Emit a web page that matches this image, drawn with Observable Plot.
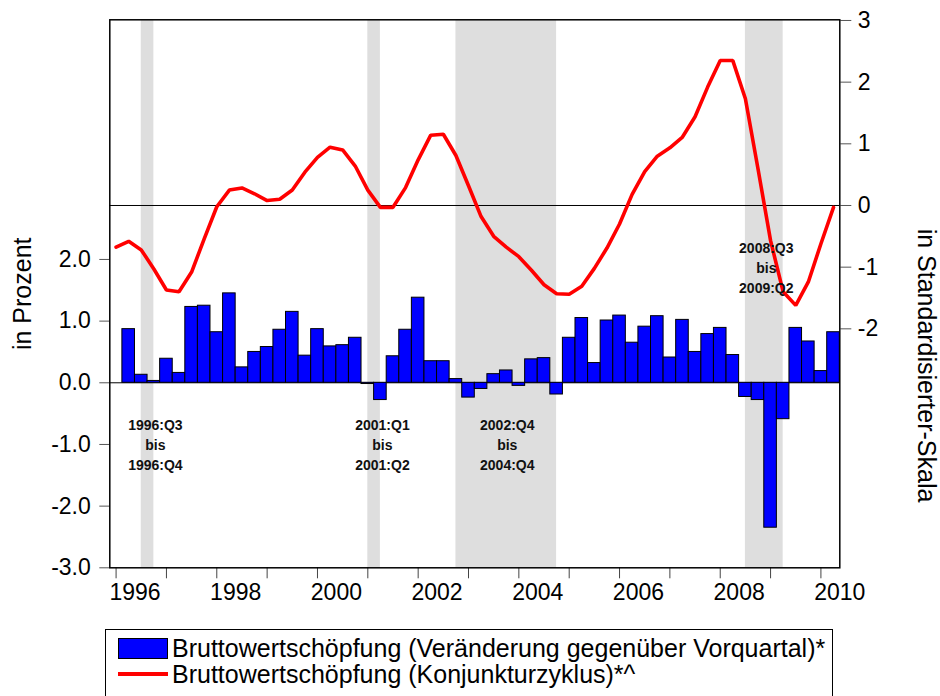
<!DOCTYPE html>
<html><head><meta charset="utf-8">
<script src="https://cdn.jsdelivr.net/npm/d3@7"></script>
<script src="https://cdn.jsdelivr.net/npm/@observablehq/plot@0.6"></script>
<style>
body{margin:0;background:#fff;font-family:"Liberation Sans",Arial,sans-serif;}
#wrap{position:relative;width:940px;height:696px;overflow:hidden;}
#legend{position:absolute;left:105px;top:629px;width:728px;height:80px;border:1px solid #000;box-sizing:border-box;background:#fff;}
.row{position:absolute;left:12px;height:26px;display:flex;align-items:center;font-size:25px;color:#000;white-space:nowrap;}
.sw{display:inline-block;width:50px;margin-right:4px;box-sizing:border-box;}
</style></head><body><div id="wrap"><div id="chart"></div><div id="legend"></div></div>
<script>
// ---------- data ----------
const startYear = 1996;
// Quarterly change of gross value added (left axis, %), 1996Q2 .. 2010Q2
const changeValues = [
  0.87, 0.13, 0.03,
  0.39, 0.16, 1.23, 1.25,
  0.82, 1.45, 0.25, 0.50,
  0.58, 0.86, 1.15, 0.44,
  0.87, 0.59, 0.61, 0.73,
  -0.02, -0.28, 0.43, 0.86,
  1.38, 0.35, 0.35, 0.06,
  -0.24, -0.10, 0.14, 0.20,
  -0.05, 0.38, 0.40, -0.19,
  0.73, 1.05, 0.32, 1.01,
  1.09, 0.65, 0.91, 1.08,
  0.41, 1.02, 0.50, 0.79,
  0.89, 0.45, -0.23, -0.28,
  -2.35, -0.59, 0.89, 0.67,
  0.19, 0.82
];
// Business cycle (right axis, standardised), 1996Q1 .. 2010Q2
const cycleValues = [
  -0.675, -0.58, -0.72, -1.03,
  -1.37, -1.40, -1.08, -0.54,
  -0.02, 0.25, 0.285, 0.19,
  0.08, 0.10, 0.25, 0.54,
  0.78, 0.945, 0.90, 0.64,
  0.25, -0.03, -0.03, 0.29,
  0.74, 1.14, 1.155, 0.81,
  0.32, -0.18, -0.50, -0.675,
  -0.83, -1.05, -1.285, -1.43,
  -1.44, -1.31, -1.02, -0.69,
  -0.30, 0.18, 0.55, 0.80,
  0.935, 1.11, 1.44, 1.92,
  2.35, 2.35, 1.73, 0.595,
  -0.57, -1.40, -1.62, -1.24,
  -0.62, -0.03
];
const recessions = [
  ["1996Q3", "1996Q4"],
  ["2001Q1", "2001Q2"],
  ["2002Q4", "2004Q4"],
  ["2008Q3", "2009Q2"]
];
const recessionLabels = [
  {t: 1996.78, level: -0.99, text: "1996:Q3\nbis\n1996:Q4"},
  {t: 2001.29, level: -0.99, text: "2001:Q1\nbis\n2001:Q2"},
  {t: 2003.77, level: -0.99, text: "2002:Q4\nbis\n2004:Q4"},
  {t: 2008.915, level: 1.89, text: "2008:Q3\nbis\n2009:Q2"}
];
const xTicks = [1996,1997,1998,1999,2000,2001,2002,2003,2004,2005,2006,2007,2008,2009,2010];
const xLabelYears = [1996, 1998, 2000, 2002, 2004, 2006, 2008, 2010];
const xTickLabels = ["1996","1998","2000","2002","2004","2006","2008","2010"];
const leftTicks = [-3, -2, -1, 0, 1, 2];
const leftTickLabels = ["-3.0","-2.0","-1.0","0.0","1.0","2.0"];
const rightTicks = [-2, -1, 0, 1, 2, 3];
const rightTickLabels = ["-2","-1","0","1","2","3"];
const seriesNames = [
  "Bruttowertschöpfung (Veränderung gegenüber Vorquartal)*",
  "Bruttowertschöpfung (Konjunkturzyklus)*^"
];
const leftTitle = "in Prozent";
const rightTitle = "in Standardisierter-Skala";

// ---------- helpers ----------
const tOf = s => +s.slice(0, 4) + (+s.slice(5) - 1) / 4;
const quarterT = i => startYear + i / 4;           // i = 0 -> 1996Q1
const OFF = 2.875;                                 // right-axis 0 in left-axis units
const HALF = 0.125;

const bars = changeValues.map((v, i) => ({t: quarterT(i + 1), v}));
const cycle = cycleValues.map((v, i) => ({t: quarterT(i), v}));
const FONT = '"Liberation Sans", Arial, sans-serif';

const chart = Plot.plot({
  width: 940,
  height: 610,
  marginLeft: 109.3,
  marginRight: 100.7,
  marginTop: 19.3,
  marginBottom: 42.7,
  style: {fontFamily: FONT, fontSize: "23px", background: "#fff", color: "#000", overflow: "visible"},
  x: {domain: [startYear - HALF, 2010.25 + HALF], label: null},
  y: {domain: [-3, 5.886], label: null},
  marks: [
    Plot.rect(recessions, {x1: d => tOf(d[0]), x2: d => tOf(d[1]), fill: "#dedede"}),
    Plot.ruleY([0, OFF], {stroke: "#000", strokeWidth: 1}),
    Plot.rect(bars, {x1: d => d.t - HALF, x2: d => d.t + HALF, y1: 0, y2: d => d.v,
      fill: "#0000ff", stroke: "#000", strokeWidth: 1}),
    Plot.line(cycle, {x: "t", y: d => d.v + OFF, stroke: "#ff0000", strokeWidth: 3.6, strokeLinejoin: "miter"}),
    Plot.text(recessionLabels, {x: "t", y: "level", text: "text",
      fontSize: 14, fontWeight: "bold", lineHeight: 1.43, fill: "#111", textAnchor: "middle"}),
    // year ticks (every year) at the first quarter
    Plot.axisX({ticks: xTicks, tickFormat: () => "", tickSize: 11, stroke: "#444", label: null}),
    // year labels centred on the middle of the year
    Plot.axisX({ticks: xLabelYears, tickFormat: d => xTickLabels[xLabelYears.indexOf(d)], tickSize: 0,
      tickPadding: 16, dx: 18.9, fill: "#000", fontSize: 23, label: null}),
    Plot.axisY({anchor: "left", ticks: leftTicks, tickFormat: d => leftTickLabels[leftTicks.indexOf(d)],
      tickSize: 10, tickPadding: 9, stroke: "#555", fill: "#000", fontSize: 23, label: null}),
    Plot.axisY({anchor: "right", ticks: rightTicks.map(r => r + OFF),
      tickFormat: d => rightTickLabels[rightTicks.indexOf(Math.round(d - OFF))],
      tickSize: 11, tickPadding: 7, stroke: "#555", fill: "#000", fontSize: 23, label: null}),
    Plot.text([leftTitle], {frameAnchor: "left", dx: -87, rotate: -90, fontSize: 25, fill: "#000", textAnchor: "middle"}),
    Plot.text([rightTitle], {frameAnchor: "right", y: [0.28], dx: 86, rotate: 90, fontSize: 25, fill: "#000", textAnchor: "middle"}),
    Plot.frame({stroke: "#000", strokeWidth: 1.5})
  ]
});
document.getElementById("chart").appendChild(chart);

// ---------- legend ----------
const legend = d3.select("#legend");
const swatches = [
  {style: "height:21px;background:#0000ff;border:1px solid #000;"},
  {style: "height:4px;background:#ff0000;"}
];
seriesNames.forEach((name, i) => {
  const row = legend.append("div").attr("class", "row").style("top", (5 + i * 26) + "px");
  row.append("span").attr("class", "sw").attr("style", swatches[i].style);
  row.append("span").text(name);
});
</script></body></html>
